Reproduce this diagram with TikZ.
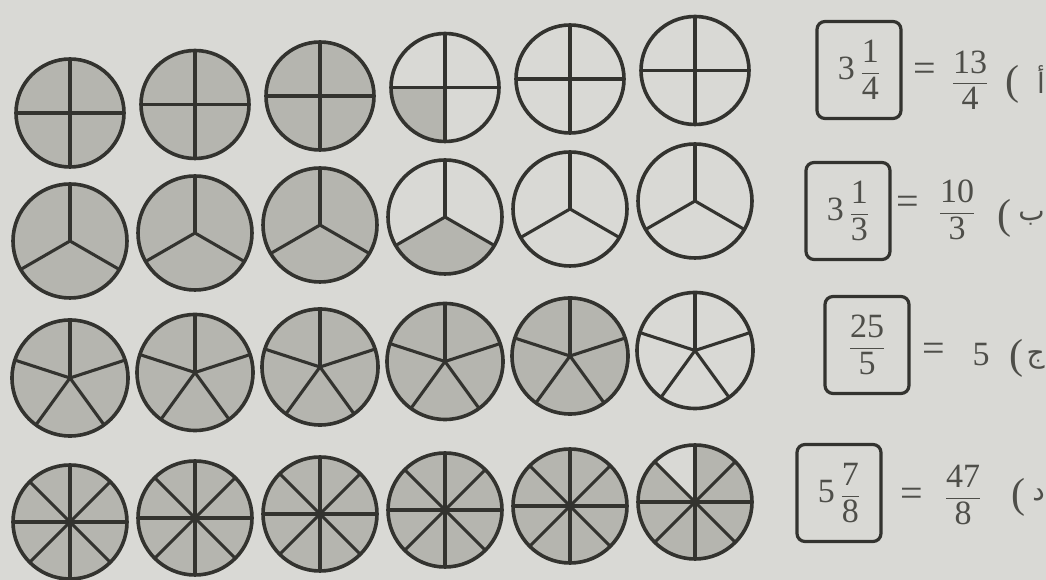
\documentclass[tikz,border=0pt]{standalone}
\usepackage{amsmath}
\usepackage{fontspec}
\setmainfont{Liberation Serif}
\newfontfamily\arabicfont[Script=Arabic]{DejaVu Sans}
\TeXXeTstate=1
\usetikzlibrary{positioning}
\definecolor{Paper}{HTML}{D9D9D5}
\definecolor{Shade}{HTML}{B5B5AF}
\definecolor{Ink}{HTML}{33332F}
\definecolor{Print}{HTML}{4E4E49}
\newcommand{\frc}[2]{$\dfrac{\mbox{#1}}{\mbox{#2}}$}
% row: y of first centre / rise per column / radius / parts / first spoke / whole ones
\def\pierows{467/8.5/54/4/0/3, 339/8/57/3/90/3, 202/5.5/58/5/18/5, 58/4/57/8/0/5}

\begin{document}
\begin{tikzpicture}[x=1pt,y=1pt,
  ring/.style={draw=Ink, line width=3.6pt},
  spoke/.style={draw=Ink, line width=3.1pt},
  part/.style={fill=Shade},
  frbox/.style={draw=Ink, line width=3.2pt, rounded corners=8pt,
                minimum width=84pt, minimum height=97pt, inner sep=0pt,
                text=Print, font=\fontsize{34}{34}\selectfont},
  num/.style={text=Print, inner sep=0pt, font=\fontsize{34}{34}\selectfont},
  eq/.style={text=Print, inner sep=0pt, font=\fontsize{40}{40}\selectfont},
  lbl/.style={text=Print, inner sep=0pt, font=\fontsize{42}{42}\selectfont},
  ltr/.style={text=Print, inner sep=0pt, anchor=east, font=\fontsize{28}{28}\arabicfont}]
  \useasboundingbox (0,0) rectangle (1046,580);
  \fill[Paper] (0,0) rectangle (1046,580);

  % shaded wholes
  \foreach \yy/\dy/\rr/\n/\rot/\nfull [count=\r] in \pierows {
    \foreach \c in {1,...,6} {
      \coordinate (p\r\c) at ({70+125*(\c-1)},{\yy+\dy*(\c-1)});
      \ifnum\c>\nfull\else \fill[part] (p\r\c) circle[radius=\rr]; \fi
    }
  }
  % shaded parts
  \fill[part] (p14) -- ++(180:54) arc[start angle=180, end angle=270, radius=54] -- cycle;
  \fill[part] (p24) -- ++(210:57) arc[start angle=210, end angle=330, radius=57] -- cycle;
  \foreach \a in {0,45,135,180,225,270,315}
    \fill[part] (p46) -- ++(\a:57) arc[start angle=\a, delta angle=45, radius=57] -- cycle;

  % spokes and rims
  \foreach \yy/\dy/\rr/\n/\rot/\nfull [count=\r] in \pierows {
    \foreach \c in {1,...,6} {
      \foreach \k in {1,...,\n}
        \draw[spoke] (p\r\c) -- ++({\rot+360/\n*\k}:\rr);
      \draw[ring] (p\r\c) circle[radius=\rr];
    }
  }

  % answers
  \node[frbox] (b1) at (859,510) {3\,\frc{1}{4}};
  \node[eq] (e1) at (925,508) {=};
  \node[num] (f1) at (970,500) {\frc{13}{4}};
  \node[lbl] (o1) at (1012,496) {(};
  \node[ltr] (l1) at (1045,500) {\beginR أ\endR};

  \node[frbox] (b2) at (848,369) {3\,\frc{1}{3}};
  \node[eq] (e2) at (908,375) {=};
  \node[num] (f2) at (957,370) {\frc{10}{3}};
  \node[lbl] (o2) at (1004,362) {(};
  \node[ltr] (l2) at (1045,362) {\beginR ب\endR};

  \node[frbox] (b3) at (867,235) {\frc{25}{5}};
  \node[eq] (e3) at (934,228) {=};
  \node[num] (f3) at (981,225) {5};
  \node[lbl] (o3) at (1016,222) {(};
  \node[ltr] (l3) at (1045,220) {\beginR ج\endR};

  \node[frbox] (b4) at (839,87) {5\,\frc{7}{8}};
  \node[eq] (e4) at (912,83) {=};
  \node[num] (f4) at (963,85) {\frc{47}{8}};
  \node[lbl] (o4) at (1018,83) {(};
  \node[ltr] (l4) at (1045,85) {\beginR د\endR};
\end{tikzpicture}
\end{document}
